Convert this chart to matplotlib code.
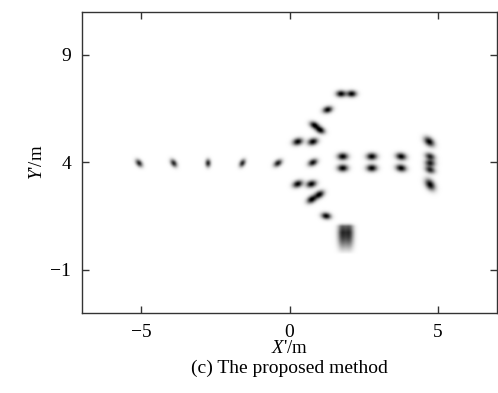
import numpy as np
import matplotlib
matplotlib.use("Agg")
import matplotlib.pyplot as plt

plt.rcParams['font.family'] = ['Liberation Serif', 'DejaVu Serif']
plt.rcParams['mathtext.fontset'] = 'custom'
plt.rcParams['mathtext.rm'] = 'Liberation Serif'
plt.rcParams['mathtext.it'] = 'Liberation Serif:italic'

# scatterer positions (m)
pt_x = [-5.08, -3.91, -2.75, -1.59, -0.39,
        0.79, 0.28, 0.79, 0.28, 0.74,
        0.84, 1.04, 1.29, 1.74, 2.10,
        1.01, 0.75, 1.24,
        1.80, 1.80, 2.78, 2.78, 3.77, 3.77,
        4.72, 4.75, 4.75, 4.75, 4.75]
pt_y = [3.97, 3.97, 3.97, 3.97, 3.97,
        4.00, 4.97, 4.97, 3.00, 3.00,
        5.74, 5.51, 6.46, 7.20, 7.20,
        2.51, 2.28, 1.51,
        4.28, 3.74, 4.28, 3.74, 4.28, 3.74,
        4.97, 4.28, 3.97, 3.66, 2.97]
pt_amp = [0.85, 0.85, 0.85, 0.85, 0.9,
          0.95, 1.0, 1.0, 1.0, 1.0,
          1.0, 1.0, 1.0, 1.0, 1.0,
          1.0, 1.0, 1.0,
          1.0, 1.0, 1.0, 1.0, 1.0, 1.0,
          1.0, 0.85, 0.85, 0.85, 1.0]
pt_angle = [-50, -55, 90, 60, 35,
            25, 15, 15, 20, 15,
            -25, -25, 15, 0, 0,
            30, 30, -10,
            0, 0, 0, 0, -10, -10,
            -40, -20, -10, -20, -55]
pt_major = [3.0, 3.0, 2.8, 2.9, 3.2,
            3.4, 3.6, 3.6, 3.6, 3.6,
            3.4, 3.4, 3.4, 3.4, 3.4,
            3.6, 3.6, 3.4,
            3.7, 3.7, 3.7, 3.7, 3.7, 3.7,
            4.1, 3.6, 3.6, 3.6, 4.4]

# smeared bottom cluster (vertical streaks)
streak_x = [1.78, 2.02]
streak_y = [0.45, 0.45]

xlim = (-7, 7)
ylim = (-3, 11)

fig = plt.figure(figsize=(4.98, 3.93), dpi=100)
ax = fig.add_axes([0.1647, 0.2036, 0.8333, 0.7659])

# pixel scale (screen px per metre)
sx_px = 29.67
sy_px = 21.67
nx, ny = 700, 700
gx = np.linspace(xlim[0], xlim[1], nx)
gy = np.linspace(ylim[0], ylim[1], ny)
X, Y = np.meshgrid(gx, gy)
U = X * sx_px
V = Y * sy_px
img = np.zeros_like(X)
for x0, y0, a, ang, mj in zip(pt_x, pt_y, pt_amp, pt_angle, pt_major):
    du = U - x0 * sx_px
    dv = V - y0 * sy_px
    t = np.deg2rad(ang)
    p = du * np.cos(t) + dv * np.sin(t)
    q = -du * np.sin(t) + dv * np.cos(t)
    mn = mj * 0.68
    img += a * np.exp(-0.5 * ((p / mj) ** 2 + (q / mn) ** 2))

for x0, y0 in zip(streak_x, streak_y):
    du = U - x0 * sx_px
    dv = V - y0 * sy_px
    g = np.exp(-0.5 * ((du / 3.2) ** 2 + (dv / 14.0) ** 2))
    g *= np.clip((V - (-0.27) * sy_px) / 22.0, 0, 1) ** 0.8
    m = Y > 1.0
    g[m] *= np.exp(-0.5 * ((Y[m] - 1.0) * sy_px / 2.0) ** 2)
    img += 0.85 * g
img[Y < -0.27] = 0

ax.imshow(img, extent=[xlim[0], xlim[1], ylim[0], ylim[1]], origin='lower',
          cmap='gray_r', vmin=0, vmax=1.0, aspect='auto', interpolation='bilinear')

ax.set_xlim(*xlim)
ax.set_ylim(*ylim)
ax.set_xticks([-5, 0, 5])
ax.set_yticks([-1, 4, 9])
ax.set_xticklabels(['\u22125', '0', '5'])
ax.set_yticklabels(['\u22121', '4', '9'])
ax.tick_params(direction='in', top=True, right=True, labelsize=14, length=5,
               width=1.0, color='#333333')
ax.tick_params(axis='x', pad=8)
ax.tick_params(axis='y', pad=8)
for s in ax.spines.values():
    s.set_linewidth(1.0)
    s.set_color('#333333')

ax.set_xlabel(r"$X$'/m", fontsize=13.5, labelpad=-1)
ax.set_ylabel(r"$Y$'/m", fontsize=13.5, labelpad=3)
fig.text(0.5813, 0.064, "(c) The proposed method", ha='center', va='center', fontsize=14)

fig.savefig('out.png', dpi=100)
